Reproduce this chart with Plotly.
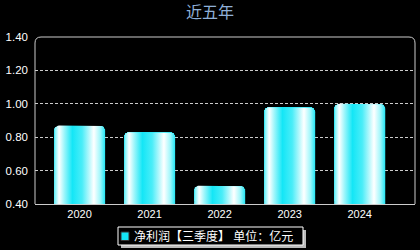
import numpy as np
import plotly.graph_objects as go

years = ["2020", "2021", "2022", "2023", "2024"]
profit = [0.87, 0.83, 0.51, 0.98, 1.00]
series_name = "净利润【三季度】 单位：亿元"
title_text = "近五年"
y_ticks = [0.4, 0.6, 0.8, 1.0, 1.2, 1.4]

FONT = "Liberation Sans, Arial, Noto Sans CJK SC, sans-serif"
W, H = 420, 250
ML, MR, MT, MB = 35, 5, 37, 46
PW, PH = W - ML - MR, H - MT - MB
XR = [-0.636, 4.79]
YR = [0.4, 1.4]
BW = 0.73
CYAN = "#14e6f6"

px_x = PW / (XR[1] - XR[0])
px_y = PH / (YR[1] - YR[0])


def pxx(p):
    return (p - ML) / PW


def pxy(p):
    return (H - MB - p) / PH


fig = go.Figure()
fig.add_trace(go.Bar(
    x=list(range(len(years))), y=[v - YR[0] for v in profit], base=YR[0],
    width=BW, name=series_name, marker=dict(color=CYAN, line=dict(width=0), cornerradius=5),
    showlegend=False, hoverinfo="skip"))

grad = [[0.0, "#5beef8"], [0.1, "#ffffff"], [0.2, "#9ff6fb"], [0.36, "#14e6f6"],
        [0.55, "#4aedf8"], [0.78, "#ffffff"], [0.9, "#a5f7fb"], [1.0, "#22e6f5"]]

r = 5.0
rx, ry = r / px_x, r / px_y
t = np.linspace(0, np.pi / 2, 8)
for i, v in enumerate(profit):
    x0, x1 = i - BW / 2, i + BW / 2
    y0 = YR[0]
    xs = [x0, x0]
    ys = [y0, v - ry]
    xs += list(x0 + rx - rx * np.cos(t))
    ys += list(v - ry + ry * np.sin(t))
    xs += list(x1 - rx + rx * np.sin(t))
    ys += list(v - ry + ry * np.cos(t))
    xs += [x1, x0]
    ys += [y0, y0]
    fig.add_trace(go.Scatter(
        x=xs, y=ys, mode="lines", fill="toself", line=dict(width=0),
        fillgradient=dict(type="horizontal", colorscale=grad),
        showlegend=False, hoverinfo="skip"))

# rounded frame
crx, cry = 6 / PW, 6 / PH
path = (f"M 0,0 L 0,{1 - cry} Q 0,1 {crx},1 "
        f"L {1 - crx},1 Q 1,1 1,{1 - cry} L 1,0")
fig.add_shape(type="path", path=path, xref="paper", yref="paper",
              line=dict(color="#cccccc", width=1), layer="above")

# legend (box, shadow, swatch, label)
fig.add_shape(type="rect", xref="paper", yref="paper",
              x0=pxx(121), x1=pxx(306), y0=pxy(248), y1=pxy(230),
              fillcolor="#bbbbbb", line=dict(width=0))
fig.add_shape(type="rect", xref="paper", yref="paper",
              x0=pxx(118), x1=pxx(303), y0=pxy(245), y1=pxy(227),
              fillcolor="black", line=dict(color="white", width=1))
fig.add_shape(type="rect", xref="paper", yref="paper",
              x0=pxx(121), x1=pxx(129), y0=pxy(240.5), y1=pxy(232),
              fillcolor=CYAN, line=dict(color="#333333", width=1))
fig.add_annotation(text=series_name, xref="paper", yref="paper",
                   x=pxx(132), y=pxy(236), xanchor="left", yanchor="middle",
                   showarrow=False, font=dict(size=12, color="white"))

fig.update_layout(
    width=W, height=H,
    margin=dict(l=ML, r=MR, t=MT, b=MB, pad=0, autoexpand=False),
    paper_bgcolor="black", plot_bgcolor="black",
    font=dict(family=FONT, color="white", size=11),
    title=dict(text=title_text, x=0.5, xanchor="center", y=0.95, yanchor="middle",
               font=dict(size=16, color="#8fb0d8")),
    bargap=0,
    xaxis=dict(range=XR, tickvals=list(range(len(years))), ticktext=years,
               showgrid=False, zeroline=False, showline=True, linecolor="#cccccc",
               ticks="", tickfont=dict(size=11, color="white")),
    yaxis=dict(range=YR, tickvals=y_ticks, tickformat=".2f", showgrid=True,
               gridcolor="#cccccc", griddash="3px,2px", gridwidth=1,
               zeroline=False, showline=False, ticks="", ticklabelstandoff=6,
               tickfont=dict(size=11.5, color="white")),
    showlegend=False,
)

fig.write_html("out.html")
